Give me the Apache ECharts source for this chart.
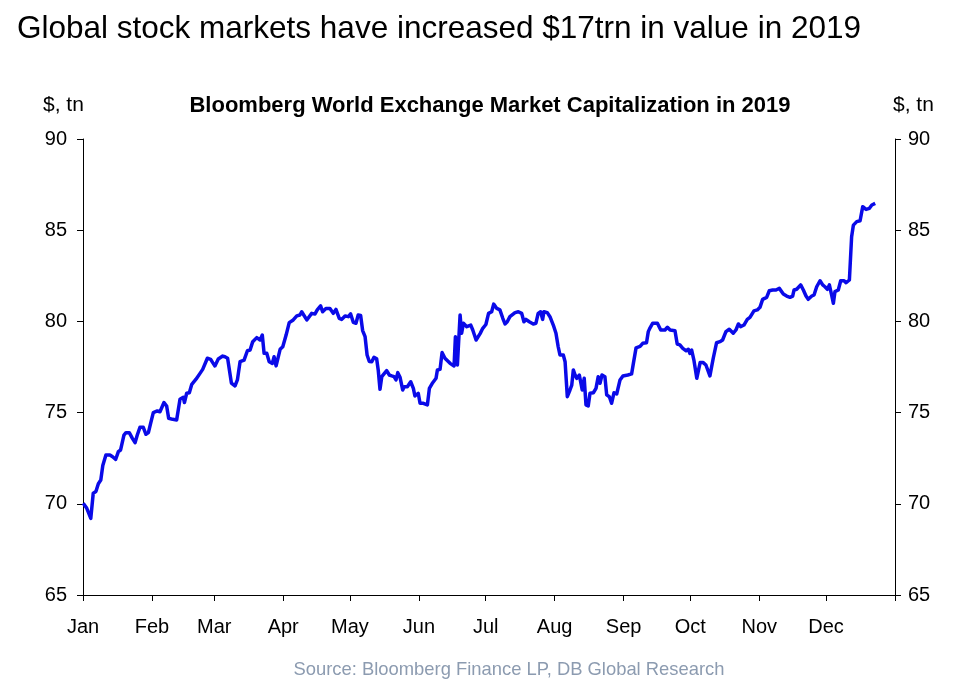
<!DOCTYPE html>
<html>
<head>
<meta charset="utf-8">
<title>Bloomberg World Exchange Market Capitalization in 2019</title>
<script src="https://cdn.jsdelivr.net/npm/echarts@6/dist/echarts.min.js"></script>
<style>
  html, body { margin: 0; padding: 0; background: #fff; }
  #chart { width: 960px; height: 686px; }
</style>
</head>
<body>
<div id="chart"></div>
<script>
// day of 2019 (0 = Jan 1) for each reading
const days = [
  0.1, 1.7, 2.4, 3.5, 4.6, 5.8, 6.9, 8.0, 8.9, 10.3,
  12.1, 13.3, 14.7, 15.9, 16.9, 18.4, 19.3, 20.8, 22.2, 23.4,
  24.4, 25.6, 27.1, 28.3, 29.4, 30.4, 31.6, 33.4, 34.6, 36.4,
  37.6, 38.5, 40.3, 42.1, 43.6, 45.1, 45.6, 46.6, 47.8, 48.9,
  50.8, 52.6, 53.8, 54.5, 55.9, 57.4, 58.3, 59.3, 60.8, 62.8,
  63.8, 65.0, 66.7, 68.3, 69.4, 70.6, 72.4, 73.9, 75.1, 76.3,
  78.1, 79.6, 80.6, 81.4, 82.6, 83.7, 85.1, 85.9, 86.8, 88.6,
  89.8, 91.3, 92.7, 94.5, 96.1, 97.5, 98.3, 100.6, 102.8, 104.3,
  105.3, 106.8, 107.7, 109.2, 111.0, 112.5, 113.7, 115.2, 116.3, 117.8,
  119.3, 120.3, 121.5, 122.7, 123.7, 124.8, 125.7, 126.8, 127.7, 128.7,
  129.8, 130.8, 132.0, 132.7, 133.5, 134.3, 135.0, 136.5, 137.7, 138.8,
  139.8, 140.7, 141.5, 142.5, 143.7, 144.4, 145.8, 147.3, 148.5, 149.2,
  150.7, 151.5, 153.0, 153.7, 154.8, 155.7, 157.2, 158.7, 159.3, 160.5,
  161.4, 162.7, 165.0, 166.8, 167.4, 168.3, 169.5, 170.2, 171.0, 172.5,
  174.3, 175.2, 176.7, 178.5, 179.7, 181.1, 182.3, 183.7, 184.6, 186.0,
  187.4, 188.7, 189.7, 190.7, 191.9, 194.2, 195.7, 197.2, 198.2, 199.1,
  200.6, 202.4, 203.6, 204.6, 205.7, 206.6, 207.2, 208.7, 209.9, 211.4,
  212.6, 213.6, 214.4, 215.9, 216.7, 217.7, 218.9, 219.7, 220.4, 221.2,
  221.9, 223.1, 223.7, 224.4, 225.3, 226.1, 227.1, 227.9, 229.4, 230.6,
  231.6, 232.4, 233.3, 234.6, 235.4, 236.6, 237.6, 238.7, 239.9, 241.4,
  242.7, 244.9, 246.6, 247.4, 248.6, 250.4, 251.6, 253.3, 254.1, 254.9,
  256.1, 258.2, 259.7, 261.6, 262.7, 263.9, 266.1, 267.1, 268.3, 269.6,
  271.1, 272.1, 272.8, 273.6, 274.6, 275.9, 277.4, 278.8, 280.0, 280.6,
  281.8, 283.3, 284.8, 286.3, 287.5, 289.0, 290.5, 292.3, 293.5, 294.6,
  295.6, 297.1, 298.6, 299.8, 301.6, 303.1, 304.3, 305.5, 307.3, 308.5,
  310.0, 311.5, 313.0, 314.8, 316.3, 317.8, 319.0, 319.6, 320.8, 322.6,
  323.8, 325.0, 326.0, 327.6, 328.6, 329.8, 331.3, 332.5, 333.5, 334.6,
  335.5, 336.5, 337.3, 338.0, 339.5, 340.6, 342.1, 343.0, 344.5, 345.5,
  346.3, 347.8, 349.3, 350.5, 352.0, 353.5, 354.6, 356.1
]

// market cap, $ tn
const capTn = [
  70.03, 69.75, 69.84, 69.2, 70.58, 70.67, 71.1, 71.3, 72.1, 72.67,
  72.67, 72.58, 72.44, 72.86, 72.95, 73.77, 73.9, 73.9, 73.59, 73.35,
  73.77, 74.19, 74.19, 73.81, 73.9, 74.41, 75.0, 75.09, 75.05, 75.55,
  75.36, 74.69, 74.63, 74.6, 75.73, 75.84, 75.55, 76.06, 76.09, 76.55,
  76.83, 77.15, 77.37, 77.37, 77.98, 77.92, 77.74, 77.56, 77.94, 78.1,
  78.06, 77.98, 76.62, 76.46, 76.79, 77.79, 77.88, 78.39, 78.43, 78.89,
  79.11, 78.98, 79.25, 78.25, 78.25, 77.79, 77.70, 78.06, 77.56, 78.47,
  78.61, 79.25, 79.93, 80.08, 80.30, 80.35, 80.53, 80.08, 80.44, 80.41,
  80.63, 80.85, 80.53, 80.71, 80.71, 80.44, 80.66, 80.17, 80.11, 80.30,
  80.26, 80.41, 79.95, 79.90, 80.35, 80.32, 79.5, 79.16, 78.16, 77.8,
  77.79, 78.03, 77.95, 77.34, 76.28, 76.97, 77.06, 77.30, 77.06, 77.01,
  76.97, 76.79, 77.19, 76.94, 76.24, 76.42, 76.42, 76.69, 76.33, 75.91,
  76.06, 75.51, 75.51, 75.60, 75.42, 76.33, 76.64, 76.88, 77.34, 77.37,
  78.29, 77.98, 77.70, 77.56, 79.16, 77.61, 80.35, 79.35, 79.9, 79.71,
  79.80, 79.53, 78.98, 79.33, 79.62, 79.83, 80.44, 80.53, 80.95, 80.71,
  80.63, 80.17, 79.86, 79.98, 80.26, 80.48, 80.53, 80.44, 79.98, 80.11,
  79.98, 79.86, 79.90, 80.44, 80.53, 80.11, 80.53, 80.48, 80.26, 79.8,
  79.35, 78.61, 78.16, 78.16, 77.79, 75.87, 76.24, 76.51, 77.34, 77.06,
  76.88, 77.06, 76.97, 76.24, 76.88, 75.42, 75.36, 76.06, 76.09, 76.33,
  76.97, 76.61, 77.06, 76.97, 75.97, 75.87, 75.51, 76.09, 76.02, 76.79,
  77.01, 77.06, 77.12, 77.7, 78.55, 78.63, 78.80, 78.83, 79.44, 79.65,
  79.90, 79.90, 79.53, 79.53, 79.68, 79.53, 79.49, 78.76, 78.71, 78.52,
  78.39, 78.47, 78.25, 78.43, 77.88, 76.88, 77.74, 77.74, 77.61, 77.70,
  77.01, 77.98, 78.83, 78.89, 78.98, 79.44, 79.57, 79.35, 79.53, 79.86,
  79.71, 79.80, 80.11, 80.22, 80.58, 80.63, 80.77, 81.21, 81.32, 81.68,
  81.72, 81.72, 81.81, 81.50, 81.39, 81.32, 81.39, 81.72, 81.76, 82.0,
  81.72, 81.39, 81.21, 81.39, 81.45, 81.90, 82.23, 82.0, 81.90, 81.76,
  82.0, 81.45, 80.99, 81.63, 81.72, 82.23, 82.23, 82.12, 82.27, 84.64,
  85.28, 85.47, 85.52, 86.29, 86.14, 86.20, 86.38, 86.47
]

const monthLabels = ['Jan', 'Feb', 'Mar', 'Apr', 'May', 'Jun',
  'Jul', 'Aug', 'Sep', 'Oct', 'Nov', 'Dec']

const yTicks = {min: 65, max: 90, step: 5}

const DAY = 86400000
const yearStart = new Date(2019, 0, 1).getTime()
const yearEnd = new Date(2020, 0, 1).getTime()

let seriesData = days.map((d, i) => [yearStart + d * DAY, capTn[i]])

const font = 'Liberation Sans, Arial, Helvetica, sans-serif'

let yAxisBase = {
  type: 'value',
  min: yTicks.min,
  max: yTicks.max,
  interval: yTicks.step,
  splitLine: {show: false},
  axisLine: {show: true, lineStyle: {color: '#000', width: 1}},
  axisTick: {show: true, inside: false, length: 6, lineStyle: {color: '#000'}}
}

let myChart = echarts.init(document.getElementById('chart'))
let option = {
  backgroundColor: '#fff',
  animation: false,
  title: [
    {
      text: 'Global stock markets have increased $17trn in value in 2019',
      left: 12,
      top: 8,
      textStyle: {fontFamily: font, fontSize: 31.5, fontWeight: 'normal', color: '#000'}
    },
    {
      text: 'Bloomberg World Exchange Market Capitalization in 2019',
      left: 485,
      top: 90,
      textAlign: 'center',
      textStyle: {fontFamily: font, fontSize: 22, fontWeight: 'bold', color: '#000'}
    },
    {
      text: '$, tn',
      left: 38,
      top: 90,
      textStyle: {fontFamily: font, fontSize: 21, fontWeight: 'normal', color: '#000'}
    },
    {
      text: '$, tn',
      left: 888,
      top: 90,
      textStyle: {fontFamily: font, fontSize: 21, fontWeight: 'normal', color: '#000'}
    },
    {
      text: 'Source: Bloomberg Finance LP, DB Global Research',
      left: 504,
      top: 656,
      textAlign: 'center',
      textStyle: {fontFamily: font, fontSize: 18.4, fontWeight: 'normal', color: '#8c9bb0'}
    }
  ],
  grid: {left: 83, right: 65, top: 139, bottom: 91, containLabel: false},
  xAxis: {
    type: 'time',
    min: yearStart,
    max: yearEnd,
    splitNumber: 12,
    minInterval: 28 * DAY,
    maxInterval: 31 * DAY,
    splitLine: {show: false},
    axisLine: {show: true, lineStyle: {color: '#000', width: 1}},
    axisTick: {show: true, inside: false, length: 6, lineStyle: {color: '#000'}},
    minorTick: {show: false},
    axisLabel: {
      fontFamily: font,
      fontSize: 20,
      color: '#000',
      margin: 22,
      showMinLabel: true,
      showMaxLabel: true,
      formatter: function (value) {
        let dt = new Date(value)
        return dt.getFullYear() === 2019 ? monthLabels[dt.getMonth()] : ''
      }
    }
  },
  yAxis: [
    Object.assign({}, yAxisBase, {
      position: 'left',
      axisLabel: {fontFamily: font, fontSize: 20, color: '#000', margin: 16}
    }),
    Object.assign({}, yAxisBase, {
      position: 'right',
      axisLabel: {fontFamily: font, fontSize: 20, color: '#000', margin: 13}
    })
  ],
  series: [
    {
      name: 'Market cap',
      type: 'line',
      yAxisIndex: 0,
      data: seriesData,
      showSymbol: false,
      symbol: 'none',
      lineStyle: {color: '#0a0ae8', width: 3.5, join: 'round'}
    }
  ]
}
myChart.setOption(option)
</script>
</body>
</html>
